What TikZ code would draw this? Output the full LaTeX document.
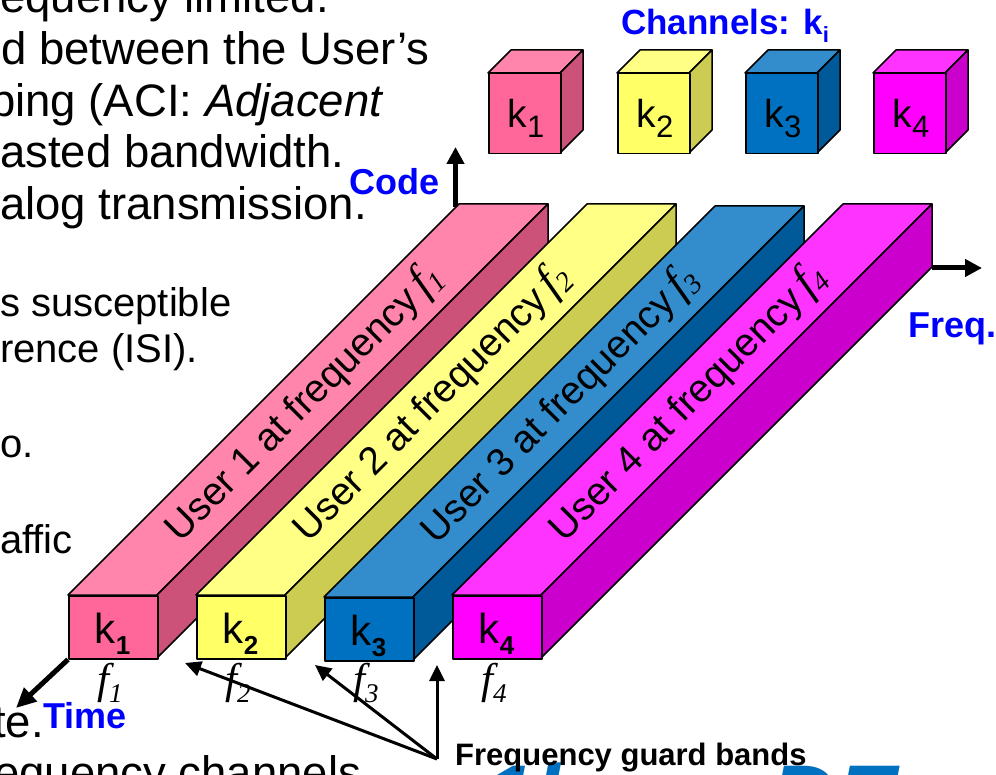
\documentclass[tikz,border=0pt]{standalone}
\usepackage{fontspec}
\setmainfont{Liberation Sans}
\newfontfamily\tms{Liberation Serif}
\usetikzlibrary{arrows.meta}
\definecolor{pinkF}{HTML}{FF6699}
\definecolor{pinkT}{HTML}{FF85AD}
\definecolor{pinkS}{HTML}{CC527A}
\definecolor{yelF}{HTML}{FFFF66}
\definecolor{yelT}{HTML}{FFFF85}
\definecolor{yelS}{HTML}{CCCC52}
\definecolor{bluF}{HTML}{0070C0}
\definecolor{bluT}{HTML}{338DCD}
\definecolor{bluS}{HTML}{005A9A}
\definecolor{magF}{HTML}{FF00FF}
\definecolor{magT}{HTML}{FF33FF}
\definecolor{magS}{HTML}{CC00CC}
\definecolor{titleblue}{HTML}{0070C0}
\newcommand\myfs[1]{\fontsize{#1}{#1}\selectfont}
\newcommand\mysub[3]{\raisebox{-#1pt}{\fontsize{#2}{#2}\selectfont #3}}
\tikzset{
  edge/.style={draw=black, line width=1.5pt, line join=round},
  frontbox/.style={edge, rectangle, minimum width=89pt, minimum height=63pt, inner sep=0pt},
  bodyA/.style={anchor=base west, inner sep=0pt, font=\myfs{45.5}},
  bodyB/.style={anchor=base west, inner sep=0pt, font=\myfs{40}},
  bigblue/.style={anchor=base west, inner sep=0pt, text=titleblue, font=\myfs{92}\bfseries\itshape},
  bluelab/.style={text=blue, font=\myfs{36}\bfseries, inner sep=0pt},
  barlab/.style={inner sep=0pt, font=\myfs{39}},
  klab/.style={inner sep=0pt, font=\myfs{42}},
  cubelab/.style={inner sep=0pt, font=\myfs{39}},
  flab/.style={inner sep=0pt, font=\tms\itshape\myfs{43}},
  axisarrow/.style={line width=5pt, -{Triangle[length=17pt,width=17pt]}},
  guardarrow/.style={line width=3pt, -{Triangle[length=16pt,width=15pt]}},
}
% bar: x0, y0, front, top, side, name, index
\newcommand\mybar[7]{%
  \path[edge, fill=#4] (#1,#2) -- ++(89,0) -- ++(391,-391) -- ++(-89,0) -- cycle;
  \path[edge, fill=#5] ({#1+89},#2) -- ++(0,63) -- ++(391,-391) -- ++(0,-63) -- cycle;
  \node[frontbox, fill=#3, anchor=north west] (#6) at (#1,#2) {};
  \node[barlab, rotate=45] (#6u) at ({#1+44.5+192},{#2-192})
     {User #7 at frequency\,{\tms\itshape\myfs{46}f}\mysub{6}{28}{\tms\itshape #7}};
  \node[klab, anchor=base] (#6k) at ({#1+44.5},{#2+48}) {k\mysub{11}{26}{\bfseries #7}};
  \node[flab, anchor=base] (#6f) at ({#1+42},693) {f\mysub{9}{27}{#7}};
}
% cube: x, y, front, top, side, name, index
\newcommand\mycube[7]{%
  \path[edge, fill=#4] (#1,#2) -- ++(23,-23) -- ++(72,0) -- ++(-23,23) -- cycle;
  \path[edge, fill=#5] ({#1+72},#2) -- ++(23,-23) -- ++(0,80) -- ++(-23,23) -- cycle;
  \node[edge, fill=#3, rectangle, minimum width=72pt, minimum height=80pt, inner sep=0pt, anchor=north west] (#6) at (#1,#2) {};
  \node[cubelab, anchor=base] (#6k) at ({#1+38},128) {k\mysub{10}{31}{#7}};
}
\begin{document}
\begin{tikzpicture}[x=1pt,y=-1pt]
\useasboundingbox (0,0) rectangle (996,775);
\clip (0,0) rectangle (996,775);
\fill[white] (0,0) rectangle (996,775);

% background slide text (cut off)
\node[bodyA] (l1) at (0,13) {equency limited.};
\node[bodyA] (l2) at (1,65) {d between the User’s};
\node[bodyA] (l3) at (-10,117) {ping (ACI: \textit{Adjacent}};
\node[bodyA] (l4) at (0,168) {asted bandwidth.};
\node[bodyA] (l5) at (0,220) {alog transmission.};
\node[bodyB] (l6) at (0,317) {s susceptible};
\node[bodyB] (l7) at (0,363) {rence (ISI).};
\node[bodyB] (l8) at (0,457) {o.};
\node[bodyB] (l9) at (0,553) {affic};
\node[bodyA] (l10) at (-7,737) {te.};
\node[bodyA] (l11) at (-6,788) {equency channels};
% big blue text at the bottom edge (only its top shows)
\node[bigblue] (bb1) at (483,829) {1l};
\node[bigblue] (bb2) at (770,829) {DE};

% channel cubes
\node[bluelab, anchor=base, font=\myfs{35}\bfseries] (chan) at (725,35) {Channels: k\mysub{8}{22}{\bfseries i}};
\mycube{488}{73}{pinkF}{pinkT}{pinkS}{c1}{1}
\mycube{617}{73}{yelF}{yelT}{yelS}{c2}{2}
\mycube{745}{73}{bluF}{bluT}{bluS}{c3}{3}
\mycube{873}{73}{magF}{magT}{magS}{c4}{4}

% code axis
\coordinate (codebase) at (455.5,207);
\coordinate (codetip) at (455.5,147);
\draw[axisarrow] (codebase) -- (codetip);
\node[bluelab, anchor=base east] (codelab) at (440,195) {Code};

% bars
\mybar{68}{595}{pinkF}{pinkT}{pinkS}{k1}{1}
\mybar{196}{595}{yelF}{yelT}{yelS}{k2}{2}
\mybar{324}{597}{bluF}{bluT}{bluS}{k3}{3}
\mybar{452}{595}{magF}{magT}{magS}{k4}{4}

% frequency axis
\coordinate (fq0) at (932,268);
\coordinate (fq1) at (982,268);
\draw[axisarrow] (fq0) -- (fq1);
\node[bluelab, anchor=base west] (freqlab) at (908,338) {Freq.};

% time axis
\coordinate (timetip) at (16,708);
\draw[axisarrow, -{Triangle[length=20pt,width=18pt]}] (k1.south west) -- (timetip);
\node[bluelab, anchor=base west] (timelab) at (43,728) {Time};

% guard bands
\coordinate (gorig) at (437,759);
\coordinate (g1) at (185,663);
\coordinate (g2) at (315,665);
\coordinate (g3) at (437,665);
\draw[guardarrow] (gorig) -- (g1);
\draw[guardarrow] (gorig) -- (g2);
\draw[guardarrow] (gorig) -- (g3);
\node[anchor=base west, inner sep=0pt, font=\myfs{31}\bfseries] (guardlab) at (455,765) {Frequency guard bands};
\end{tikzpicture}
\end{document}
